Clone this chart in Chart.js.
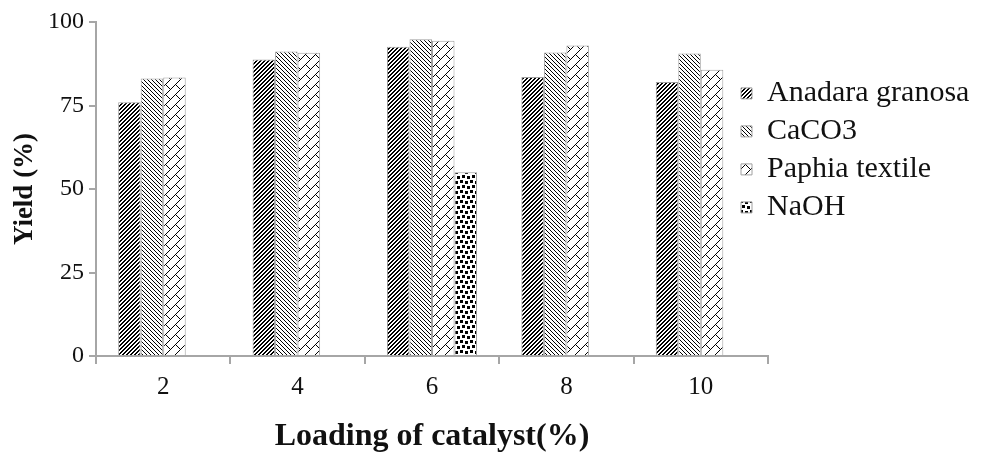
<!DOCTYPE html>
<html>
<head>
<meta charset="utf-8">
<script src="https://cdn.jsdelivr.net/npm/chart.js@4.4.1/dist/chart.umd.min.js"></script>
<style>
  html, body { margin: 0; padding: 0; background: #fff; }
  #wrap { width: 982px; height: 454px; }
</style>
</head>
<body>
<div id="wrap"><canvas id="yieldChart"></canvas></div>
<script>
// catalyst loading (%) on the x axis
var categories = ['2', '4', '6', '8', '10'];

// yield (%) per catalyst
var anadara = [76, 88.8, 92.6, 83.5, 82];
var caco3   = [83.1, 91.2, 94.8, 90.9, 90.6];
var paphia  = [83.4, 90.8, 94.4, 93, 85.7];
var naoh    = [null, null, 55, null, null];

var yTicks = [0, 25, 50, 75, 100];

// little pixel tiles used as hatch fills
function makePattern(size, isInk) {
  var c = document.createElement('canvas');
  c.width = size; c.height = size;
  var g = c.getContext('2d');
  g.fillStyle = '#fff';
  g.fillRect(0, 0, size, size);
  g.fillStyle = '#000';
  for (var y = 0; y < size; y++) {
    for (var x = 0; x < size; x++) {
      if (isInk(x, y)) g.fillRect(x, y, 1, 1);
    }
  }
  return g.createPattern(c, 'repeat');
}

function inSquares(x, y, dots, w) {
  for (var i = 0; i < dots.length; i++) {
    var dx = x - dots[i][0], dy = y - dots[i][1];
    if (dx >= 0 && dx < w && dy >= 0 && dy < w) return true;
  }
  return false;
}

var patAnadara = makePattern(8, function(x, y) { return (x + y) % 4 < 2; });
var patCaco3 = makePattern(8, function(x, y) { return ((x - y) % 4 + 4) % 4 == 0; });
var patPaphia = makePattern(10, function(x, y) {
  if ((x + y) % 10 == 9) return true;
  if (x - y == 1 && x >= 6) return true;
  return false;
});
var patNaoh = makePattern(10, function(x, y) {
  return inSquares(x, y, [[0, 0], [5, 1], [2, 5], [7, 6]], 3);
});

var axisGrey = '#a6a6a6';
var serif = '"Liberation Serif", "Times New Roman", serif';

function ds(label, data, pat) {
  return {
    label: label,
    data: data,
    backgroundColor: pat,
    borderColor: '#a0a0a0',
    borderWidth: 1,
    borderSkipped: 'bottom',
    categoryPercentage: 0.67,
    barPercentage: 1
  };
}

// pull the legend's left edge over the empty space above the axis end
var legendShift = {
  id: 'legendShift',
  afterLayout: function(chart) {
    chart.legend.left -= 35;
  }
};

var ctx = document.getElementById('yieldChart').getContext('2d');
new Chart(ctx, {
  type: 'bar',
  plugins: [legendShift],
  data: {
    labels: categories,
    datasets: [
      ds('Anadara granosa', anadara, patAnadara),
      ds('CaCO3', caco3, patCaco3),
      ds('Paphia textile', paphia, patPaphia),
      ds('NaOH', naoh, patNaoh)
    ]
  },
  options: {
    responsive: true,
    maintainAspectRatio: false,
    animation: false,
    devicePixelRatio: 1,
    layout: { padding: { top: 22, left: 0, right: 0, bottom: 0 } },
    plugins: {
      tooltip: { enabled: false },
      legend: {
        position: 'right',
        align: 'start',
        maxWidth: 214,
        title: { display: true, text: ' ', padding: { top: 34, bottom: 0 } },
        labels: {
          color: '#111',
          font: { family: serif, size: 30 },
          boxWidth: 11,
          boxHeight: 11,
          padding: 8
        }
      }
    },
    scales: {
      x: {
        border: { color: axisGrey, width: 2 },
        grid: { display: true, drawOnChartArea: false, color: axisGrey, lineWidth: 2, tickLength: 8, offset: true },
        ticks: { color: '#111', font: { family: serif, size: 25 }, padding: 8 },
        title: {
          display: true,
          text: 'Loading of catalyst(%)',
          color: '#111',
          font: { family: serif, size: 32, weight: 'bold' },
          padding: { top: 10, bottom: -2 }
        },
        afterFit: function(scale) { scale.height = 98; }
      },
      y: {
        min: 0,
        max: 100,
        border: { color: axisGrey, width: 2 },
        grid: { display: true, drawOnChartArea: false, color: axisGrey, lineWidth: 2, tickLength: 7 },
        afterBuildTicks: function(scale) {
          scale.ticks = yTicks.map(function(v) { return { value: v }; });
        },
        ticks: { color: '#111', font: { family: serif, size: 24 }, padding: 5 },
        title: {
          display: true,
          text: 'Yield (%)',
          color: '#111',
          font: { family: serif, size: 27, weight: 'bold' },
          padding: { top: 9, bottom: 4 }
        },
        afterFit: function(scale) { scale.width = 96; }
      }
    }
  }
});
</script>
</body>
</html>
